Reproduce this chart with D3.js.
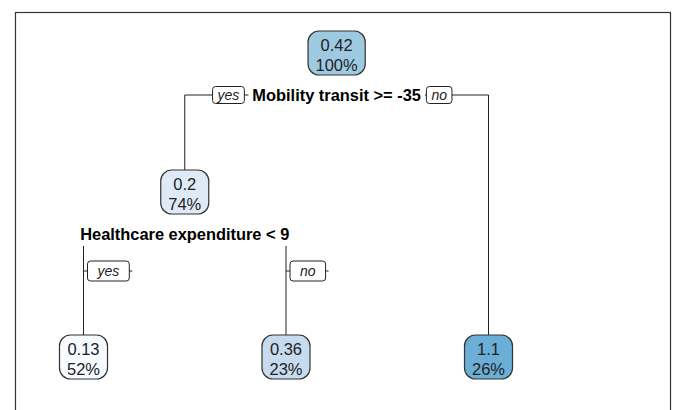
<!DOCTYPE html>
<html><head><meta charset="utf-8">
<script src="https://cdn.jsdelivr.net/npm/d3@7"></script>
<style>body{margin:0;background:#fff}svg{display:block}</style>
</head><body>
<script>
// ---- data ----
const nodeIds      = ["n1", "n2", "n4", "n5", "n3"];
const nodeParents  = ["",   "n1", "n2", "n2", "n1"];
const nodeValues   = [0.42, 0.2, 0.13, 0.36, 1.1];
const nodePercents = [100, 74, 52, 23, 26];
const splitNodes   = ["n1", "n2"];
const splitLabels  = ["Mobility transit >= -35", "Healthcare expenditure < 9"];
const branchLabels = ["yes", "no"];

// ---- setup ----
const W = 673, H = 410;
const FONT = "'Liberation Sans', Arial, Helvetica, sans-serif";
const svg = d3.select("body").append("svg")
  .attr("width", W).attr("height", H)
  .style("font-family", FONT);

svg.append("rect")
  .attr("x", 15.5).attr("y", 12.5).attr("width", 655).attr("height", 440)
  .attr("fill", "none").attr("stroke", "#333").attr("stroke-width", 1.2);

const table = nodeIds.map((id, i) => ({id, parent: nodeParents[i] || null, value: nodeValues[i], pct: nodePercents[i]}));
const root = d3.stratify().id(d => d.id).parentId(d => d.parent)(table);
const leaves = root.leaves();
const maxDepth = d3.max(leaves, l => l.depth);
const x = d3.scaleLinear().domain([0, leaves.length - 1]).range([83.5, 488.5]);
const yTop = d3.scaleLinear().domain([0, 1, 2]).range([31, 170, 335]);
leaves.forEach((l, i) => l.x = x(i));
root.eachAfter(n => {
  if (n.children) n.x = d3.mean(n.children, c => c.x);
  n.y = yTop(n.children ? n.depth : maxDepth);
});

const ranked = nodeValues.slice().sort(d3.ascending);
const color = d3.scaleOrdinal().domain(ranked).range(d3.schemeBlues[9].slice(0, ranked.length));
const fmt = d3.format(".2~g");

const gLines = svg.append("g").attr("stroke", "#222").attr("stroke-width", 1).attr("fill", "none");
const gLab = svg.append("g");
const gNodes = svg.append("g");

function branchBox(g, cx, cy, label, pad, h, align) {
  const bg = g.append("g");
  const rect = bg.append("rect");
  const t = bg.append("text")
    .attr("font-style", "italic").attr("font-size", 14).attr("fill", "#222")
    .attr("text-anchor", "middle").text(label);
  const tw = t.node().getComputedTextLength();
  const bw = tw + 2 * pad;
  const left = align === "right" ? cx - bw : cx;
  rect.attr("x", left).attr("y", cy - h / 2).attr("width", bw).attr("height", h)
    .attr("rx", 3).attr("fill", "#fff").attr("stroke", "#222").attr("stroke-width", 1);
  t.attr("x", left + bw / 2).attr("y", cy + 5);
  return {left, right: left + bw};
}

root.descendants().filter(n => n.children).forEach(n => {
  const sy = n.y + 64;
  const [l, r] = n.children;
  gLines.append("path").attr("d", `M${l.x},${l.y}V${sy}H${r.x}V${r.y}`);

  const si = splitNodes.indexOf(n.id);
  const lg = gLab.append("g");
  const bgRect = lg.append("rect").attr("fill", "#fff");
  const t = lg.append("text")
    .attr("x", n.x).attr("y", sy + 5.8)
    .attr("text-anchor", "middle").attr("font-weight", "bold")
    .attr("font-size", 16.4).attr("fill", "#000")
    .text(splitLabels[si]);
  const tw = t.node().getComputedTextLength();
  bgRect.attr("x", n.x - tw / 2 - 4).attr("y", sy - 12).attr("width", tw + 8).attr("height", 24);

  const span = r.x - l.x;
  if (span > tw + 120) {
    branchBox(gLab, n.x - tw / 2 - 8, sy, branchLabels[0], 5, 17, "right");
    branchBox(gLab, n.x + tw / 2 + 5.5, sy, branchLabels[1], 5, 17, "left");
  } else {
    const by = sy + 37;
    [l, r].forEach((c, k) => {
      const tick = gLab.append("line");
      const b = branchBox(gLab, c.x + 4, by, branchLabels[k], 10, 20, "left");
      tick.attr("x1", c.x).attr("x2", b.right + 3).attr("y1", by).attr("y2", by)
        .attr("stroke", "#222").attr("stroke-width", 1);
    });
  }
});

root.descendants().forEach(n => {
  const g = gNodes.append("g");
  const rect = g.append("rect");
  const t1 = g.append("text").attr("x", n.x).attr("y", n.y + 20)
    .attr("text-anchor", "middle").attr("font-size", 16.5).attr("fill", "#222")
    .text(fmt(n.data.value));
  const t2 = g.append("text").attr("x", n.x).attr("y", n.y + 40)
    .attr("text-anchor", "middle").attr("font-size", 16.5).attr("fill", "#222")
    .text(n.data.pct + "%");
  const w = Math.max(t1.node().getComputedTextLength(), t2.node().getComputedTextLength()) + 15;
  rect.attr("x", n.x - w / 2).attr("y", n.y).attr("width", w).attr("height", 44)
    .attr("rx", 11).attr("fill", color(n.data.value))
    .attr("stroke", "#333").attr("stroke-width", 1.2);
});
</script>
</body></html>
